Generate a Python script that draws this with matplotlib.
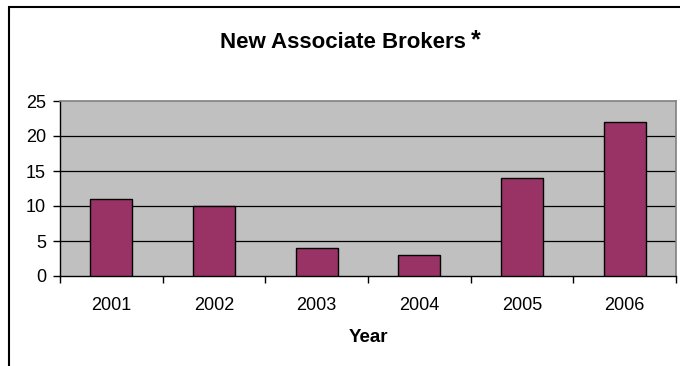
import matplotlib.pyplot as plt
from matplotlib.patches import Rectangle

plt.rcParams['font.family'] = ['Liberation Sans', 'DejaVu Sans']

# new associate brokers per year
years = ['2001', '2002', '2003', '2004', '2005', '2006']
brokers = [11, 10, 4, 3, 14, 22]

W, H = 680, 366
fig = plt.figure(figsize=(W / 100, H / 100), dpi=100)

# chart frame (runs off the right and bottom edge)
fig.patches.append(Rectangle((9 / W, -0.1), 1.2, 1 - 7 / H + 0.1, transform=fig.transFigure,
                             fill=False, edgecolor='black', linewidth=1.5))

ax = fig.add_axes([60 / W, 1 - 276 / H, (676 - 60) / W, (276 - 101) / H])
ax.set_facecolor('#c0c0c0')

x = range(len(years))
ax.bar(x, brokers, width=0.41, color='#993366', edgecolor='black', linewidth=1, zorder=3)

ax.set_xlim(-0.5, len(years) - 0.5)
ax.set_ylim(0, 25)
ax.set_yticks(range(0, 26, 5))
for v in range(5, 25, 5):
    ax.axhline(v, color='black', linewidth=0.9, zorder=1)

ax.set_xticks(list(x))
ax.set_xticklabels(years)
ax.set_xticks([i - 0.5 for i in range(len(years) + 1)], minor=True)
ax.tick_params(axis='x', which='major', length=0, pad=15, labelsize=13)
ax.tick_params(axis='x', which='minor', length=5, width=1, direction='out')
ax.tick_params(axis='y', length=5, width=1, direction='out', pad=5, labelsize=13)

for side in ['top', 'right']:
    ax.spines[side].set_color('#808080')
    ax.spines[side].set_linewidth(1.2)
for side in ['left', 'bottom']:
    ax.spines[side].set_color('black')
    ax.spines[side].set_linewidth(1)

ax.set_xlabel('Year', fontsize=13.5, fontweight='bold', labelpad=11)

fig.text(343 / W, 1 - 48 / H, 'New Associate Brokers', ha='center', va='baseline',
         fontsize=16, fontweight='bold')
fig.text(471 / W, 1 - 47 / H, '*', ha='left', va='baseline', fontsize=18, fontweight='bold')

fig.savefig('out.png', dpi=100)
